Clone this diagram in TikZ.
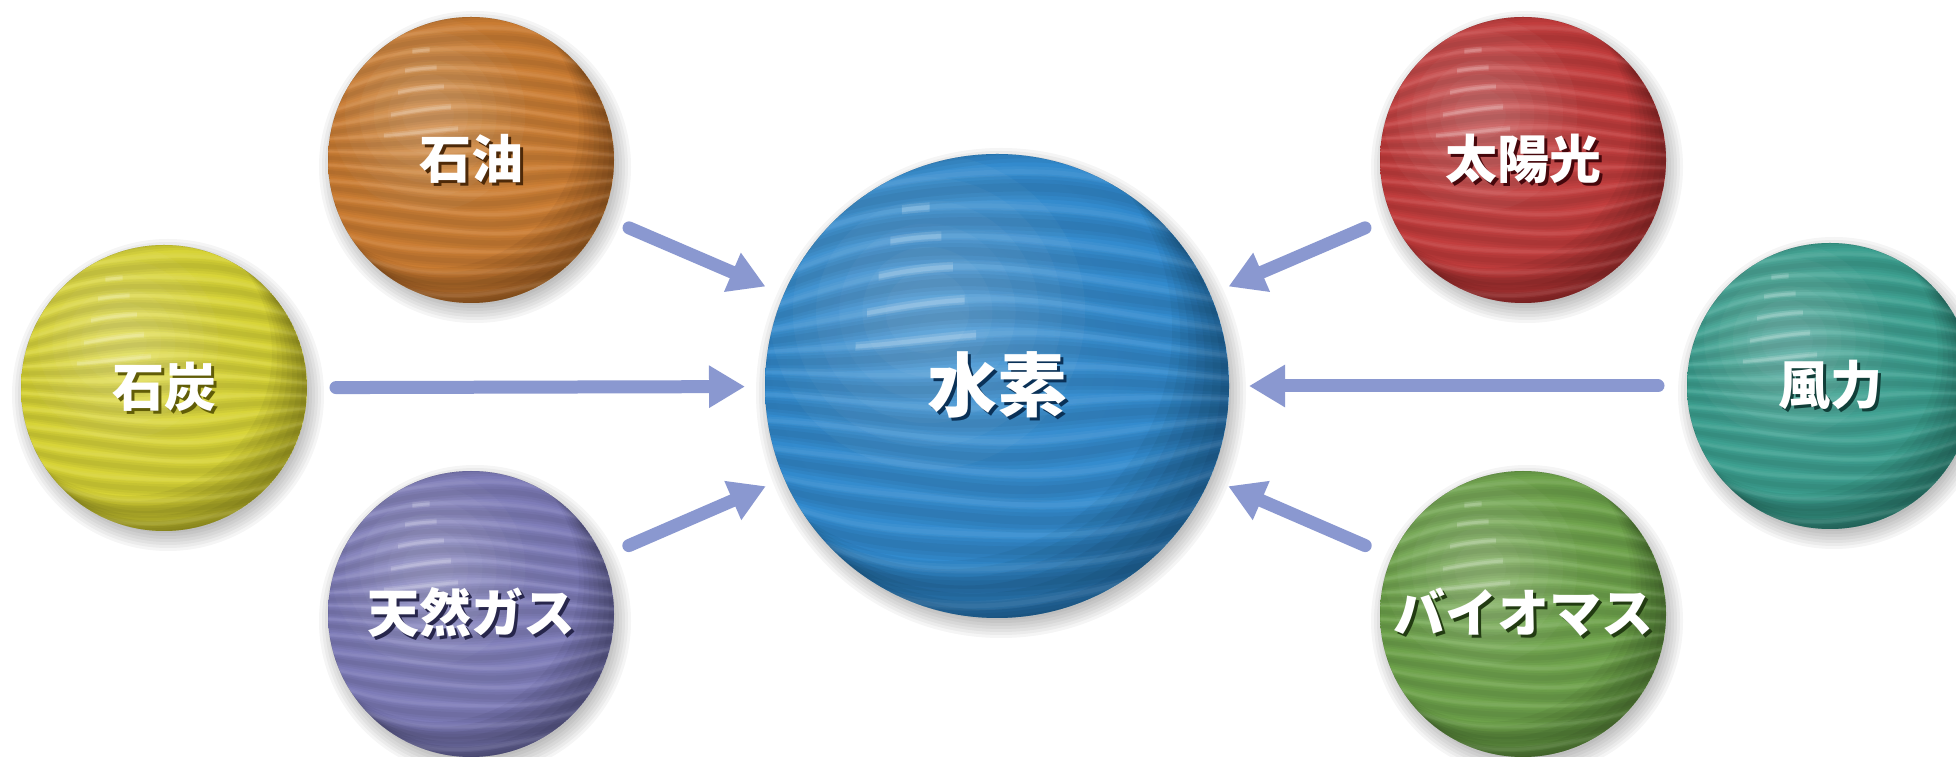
\documentclass[tikz,border=0pt]{standalone}
\usepackage{fontspec}
\newfontfamily\jpfont{Noto Sans CJK JP}
\usetikzlibrary{arrows.meta}

% sphere palettes: light / mid / dark
\definecolor{oilL}{HTML}{E0A05C}\definecolor{oilM}{HTML}{C97A30}\definecolor{oilD}{HTML}{6E3A0C}
\definecolor{coalL}{HTML}{EEEC78}\definecolor{coalM}{HTML}{D6D233}\definecolor{coalD}{HTML}{8A850A}
\definecolor{gasL}{HTML}{A8A8D6}\definecolor{gasM}{HTML}{7B79B6}\definecolor{gasD}{HTML}{38366C}
\definecolor{hydL}{HTML}{64ADE2}\definecolor{hydM}{HTML}{2F88CC}\definecolor{hydD}{HTML}{0F467C}
\definecolor{solL}{HTML}{D86A6A}\definecolor{solM}{HTML}{C03A3A}\definecolor{solD}{HTML}{640A12}
\definecolor{winL}{HTML}{70C0B4}\definecolor{winM}{HTML}{3A9E8E}\definecolor{winD}{HTML}{175850}
\definecolor{bioL}{HTML}{9ECC7E}\definecolor{bioM}{HTML}{6BA048}\definecolor{bioD}{HTML}{30541A}
\definecolor{flowc}{HTML}{8A98D0}

% body shading: even colour with a darker rim (edge of the ball = 50bp)
\newcommand\sphereshade[2]{%
  \pgfdeclareradialshading{#1}{\pgfpoint{-6bp}{6bp}}{%
    color(0bp)=(#2M!65!#2L); color(26bp)=(#2M); color(40bp)=(#2M!88!#2D);
    color(47bp)=(#2M!60!#2D); color(50bp)=(#2M!45!#2D)}}
\sphereshade{sh-oil}{oil}
\sphereshade{sh-coal}{coal}
\sphereshade{sh-gas}{gas}
\sphereshade{sh-hyd}{hyd}
\sphereshade{sh-sol}{sol}
\sphereshade{sh-win}{win}
\sphereshade{sh-bio}{bio}

% one wavy band of line #1 between offsets #2 and #3;
% the bands draw together towards the left and right rims
\newcommand\bandpath[3]{%
  plot[smooth,domain=-1.1:1.1,samples=25]
    (\x,{(#1*0.145+#2)*(1-0.3*\x*\x)+0.018*sin(230*\x+50*#1)})
  -- plot[smooth,domain=1.1:-1.1,samples=25]
    (\x,{(#1*0.145+#3)*(1-0.3*\x*\x)+0.018*sin(230*\x+50*#1)}) -- cycle}
% short gloss streak on line #1
\newcommand\streakpath[3]{%
  plot[smooth,domain=-0.66+0.05*#1:-0.04-0.05*#1,samples=9]
    (\x,{(#1*0.145+#2)*(1-0.3*\x*\x)+0.018*sin(230*\x+50*#1)})
  -- plot[smooth,domain=-0.04-0.05*#1:-0.66+0.05*#1,samples=9]
    (\x,{(#1*0.145+#3)*(1-0.3*\x*\x)+0.018*sin(230*\x+50*#1)}) -- cycle}

% ball artwork: soft cast shadow, shaded body, lighting, wavy bands
% #1,#2 centre  #3 radius  #4 shading
\newcommand\ballart[4]{%
  \begin{scope}[shift={(#1,#2)},scale=#3]
    \foreach \i in {0,...,7}
      \fill[black,fill opacity=.04] (4/#3,-7/#3) circle ({1+(13-3*\i)/#3});
    \shade[shading=#4] (0,0) circle (1);
    \begin{scope}
      \clip (0,0) circle (1);
      % light from the upper left
      \foreach \i in {1,...,6}
        \fill[white,fill opacity=.035] (-0.3,0.32) circle ({0.78-0.1*\i});
      % darker lower-right rim
      \foreach \i in {1,...,7}
        \fill[black,fill opacity=.045,even odd rule]
          (0,0) circle (1) ({-0.035*\i},{0.035*\i}) circle (1);
      % bands
      \foreach \k in {-7,...,7}{
        \foreach \w in {0.052,0.035,0.018}
          \fill[black,fill opacity=.04] \bandpath{\k}{-\w}{\w};
        \fill[white,fill opacity=.045] \bandpath{\k}{0.048}{0.09};
        \fill[white,fill opacity=.045] \bandpath{\k}{0.058}{0.078};
      }
      % gloss streaks
      \foreach \k in {1,...,5}{
        \fill[white,fill opacity=.12] \streakpath{\k}{0.046}{0.088};
        \fill[white,fill opacity=.14] \streakpath{\k}{0.056}{0.076};
      }
    \end{scope}
  \end{scope}}

% label with a dark offset shadow; #1 palette, #2 text
\newcommand\ballabel[2]{%
  \rlap{\hspace{3pt}\raisebox{-3pt}{\textcolor{#1D!70!black}{#2}}}#2}

\tikzset{
  ballnode/.style={circle,minimum size=286pt,inner sep=0pt,outer sep=0pt,
    text=white,font=\jpfont\bfseries\fontsize{52}{52}\selectfont},
  bigballnode/.style={ballnode,minimum size=464pt,
    font=\jpfont\bfseries\fontsize{70}{70}\selectfont},
  flow/.style={line width=13pt,color=flowc,line cap=round,
    -{Triangle[length=36pt,width=40pt]},shorten <=29pt,shorten >=20pt},
}

\begin{document}
\begin{tikzpicture}[x=1pt,y=1pt]
  \fill[white] (0,0) rectangle (1956,757);
  \useasboundingbox (0,0) rectangle (1956,757);

  \ballart{997}{371}{232}{sh-hyd}
  \ballart{471}{597}{143}{sh-oil}
  \ballart{164}{369}{143}{sh-coal}
  \ballart{471}{143}{143}{sh-gas}
  \ballart{1523}{597}{143}{sh-sol}
  \ballart{1830}{371}{143}{sh-win}
  \ballart{1523}{143}{143}{sh-bio}

  \node[bigballnode] (hyd)  at (997,371)  {\ballabel{hyd}{水素}};
  \node[ballnode]    (oil)  at (471,597)  {\ballabel{oil}{石油}};
  \node[ballnode]    (coal) at (164,369)  {\ballabel{coal}{石炭}};
  \node[ballnode]    (gas)  at (471,143)  {\ballabel{gas}{天然ガス}};
  \node[ballnode]    (sol)  at (1523,597) {\ballabel{sol}{太陽光}};
  \node[ballnode]    (win)  at (1830,371) {\ballabel{win}{風力}};
  \node[ballnode]    (bio)  at (1523,143) {\ballabel{bio}{バイオマス}};

  \draw[flow] (oil)  -- (hyd);
  \draw[flow] (coal) -- (hyd);
  \draw[flow] (gas)  -- (hyd);
  \draw[flow] (sol)  -- (hyd);
  \draw[flow] (win)  -- (hyd);
  \draw[flow] (bio)  -- (hyd);
\end{tikzpicture}
\end{document}
